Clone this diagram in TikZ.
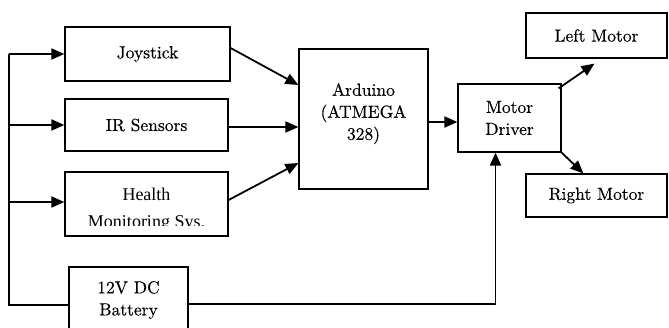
\documentclass[tikz,border=0pt]{standalone}
\usepackage{fontspec}
\setmainfont{lmroman10-regular.otf}[FakeBold=0.3]
\newfontfamily\timesfont{Liberation Serif}
\usetikzlibrary{arrows.meta,calc}

\begin{document}
\begin{tikzpicture}[x=1pt,y=-1pt,
  blk/.style={draw, line width=1.2pt, inner sep=0pt, align=center,
              font=\fontsize{17.5}{22}\selectfont},
  lbl/.style={inner sep=0pt, font=\timesfont\fontsize{18}{22}\selectfont, anchor=base},
  conn/.style={line width=1.8pt},
  arr/.style={conn, -{Triangle[length=13pt,width=11pt]}},
  bus/.style={line width=1.4pt}]
\useasboundingbox (0,0) rectangle (669,327);

% input blocks
\node[blk, minimum width=165pt, minimum height=54pt] (joy) at (147.5,54) {Joystick};
\node[blk, minimum width=163pt, minimum height=52pt] (ir)  at (146.5,125) {IR Sensors};
\node[blk, minimum width=163pt, minimum height=64pt] (hms) at (146.5,204) {};
\begin{scope}
  \clip (65,172) rectangle (228,225);
  \node[lbl] (hmsA) at (146.5,200) {Health};
  \node[lbl] (hmsB) at (146.5,227) {Monitoring Sys.};
\end{scope}
\node[blk, minimum width=119pt, minimum height=66pt] (bat) at (128.5,300) {12V DC\\Battery};

% controller and driver
\node[blk, minimum width=129pt, minimum height=140pt] (ard) at (363.5,119)
     {Arduino\\(ATMEGA\\328)\\[-7pt]};
\node[blk, minimum width=103pt, minimum height=68pt] (md) at (509.5,118) {Motor\\Driver};

% motors
\node[blk, minimum width=141pt, minimum height=45pt] (lm) at (596.5,35.5) {Left Motor};
\node[blk, minimum width=141pt, minimum height=43pt] (rm) at (596.5,195.5) {Right Motor};

% power bus on the left
\coordinate (busx) at (9,0);
\coordinate (batin) at ($(bat.west)+(0,5)$);
\coordinate (hmsin) at ($(hms.west)+(0,-2)$);
\draw[bus] (joy.west -| busx) -- (batin -| busx) -- (batin);
\draw[arr] (joy.west -| busx) -- (joy.west);
\draw[arr] (ir.west -| busx) -- (ir.west);
\draw[arr] (hmsin -| busx) -- (hmsin);

% sensor inputs to the controller
\draw[arr] ($(joy.east)+(0,-6)$) -- ($(ard.west)+(0,-34)$);
\draw[arr] ($(ir.east)+(0,2)$) -- ($(ard.west)+(0,8)$);
\draw[arr] ($(hms.east)+(0,-4)$) -- ($(ard.west)+(0,44)$);

% controller to driver
\draw[arr] ($(ard.east)+(0,3)$) -- ($(md.west)+(0,4)$);

% battery to driver
\coordinate (batout) at ($(bat.east)+(0,4)$);
\draw[arr] (batout) -| ($(md.south)+(-14,0)$);

% driver to motors
\draw[arr] ($(md.north east)+(-3,5)$) -- ($(lm.south west)+(69,5)$);
\draw[arr] (md.south east) -- ($(rm.north west)+(58,0)$);
\end{tikzpicture}
\end{document}
